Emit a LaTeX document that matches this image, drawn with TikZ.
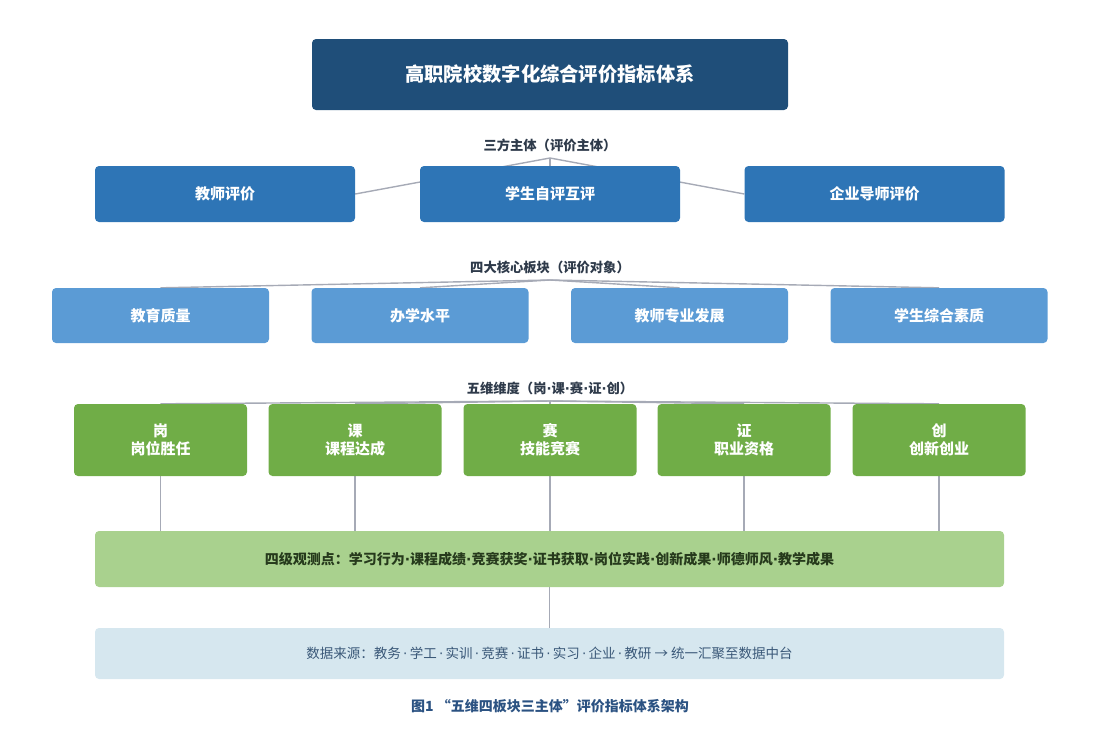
\documentclass[tikz,border=0pt]{standalone}
\usepackage{fontspec}
\setmainfont{Noto Sans CJK SC}
\newfontfamily\dotfont{DejaVu Sans}
\newcommand{\md}{{\dotfont ·}}
\newcommand{\mds}{\,{\dotfont ·}\,}
\usetikzlibrary{backgrounds}
\definecolor{cTitle}{HTML}{1F4E79}
\definecolor{cRowA}{HTML}{2E75B6}
\definecolor{cRowB}{HTML}{5B9BD5}
\definecolor{cRowC}{HTML}{70AD47}
\definecolor{cObs}{HTML}{A9D18E}
\definecolor{cData}{HTML}{D6E7EF}
\definecolor{cLine}{HTML}{A6AAB6}
\definecolor{cLabel}{HTML}{2E3A4A}
\definecolor{cObsText}{HTML}{263A1C}
\definecolor{cDataText}{HTML}{3A5878}
\definecolor{cCap}{HTML}{2B5282}
\tikzset{
  box/.style={rounded corners=4pt, inner sep=0pt, align=center, text=white, font=\bfseries\fontsize{15}{18}\selectfont},
  titlebox/.style={box, fill=cTitle, minimum width=476pt, minimum height=71pt, font=\bfseries\fontsize{19.3}{22}\selectfont},
  rowa/.style={box, fill=cRowA, minimum width=260pt, minimum height=56pt},
  rowb/.style={box, fill=cRowB, minimum width=217pt, minimum height=55pt},
  rowc/.style={box, fill=cRowC, minimum width=173pt, minimum height=72pt},
  obsbox/.style={box, fill=cObs, minimum width=909pt, minimum height=56pt, text=cObsText, font=\bfseries\fontsize{14}{16}\selectfont},
  databox/.style={box, fill=cData, minimum width=909pt, minimum height=51pt, text=cDataText, font=\fontsize{13.5}{16}\selectfont},
  grplabel/.style={inner sep=0pt, text=cLabel, font=\bfseries\fontsize{13.3}{15}\selectfont},
  caption/.style={inner sep=0pt, text=cCap, font=\bfseries\fontsize{14}{16}\selectfont},
  conn/.style={draw=cLine, line width=1.4pt}
}
\begin{document}
\begin{tikzpicture}[x=1pt, y=-1pt]
\useasboundingbox (0,0) rectangle (1100,729);
\node[titlebox] (title) at (550,74.5) {高职院校数字化综合评价指标体系};

\node[grplabel] (lab1) at (550,145) {三方主体（评价主体）};
\coordinate (h1) at (550,158);
\node[rowa] (a1) at (225,194) {教师评价};
\node[rowa] (a2) at (550,194) {学生自评互评};
\node[rowa] (a3) at (874.5,194) {企业导师评价};

\node[grplabel] (lab2) at (550,267) {四大核心板块（评价对象）};
\coordinate (h2) at (550,280);
\node[rowb] (b1) at (160.5,315.5) {教育质量};
\node[rowb] (b2) at (420,315.5) {办学水平};
\node[rowb] (b3) at (679.5,315.5) {教师专业发展};
\node[rowb] (b4) at (939,315.5) {学生综合素质};

\node[grplabel] (lab3) at (550,388) {五维维度（岗\md 课\md 赛\md 证\md 创）};
\coordinate (h3) at (550,401);
\node[rowc] (c1) at (160.5,440) {岗\\岗位胜任};
\node[rowc] (c2) at (355,440) {课\\课程达成};
\node[rowc] (c3) at (550,440) {赛\\技能竞赛};
\node[rowc] (c4) at (744,440) {证\\职业资格};
\node[rowc] (c5) at (939,440) {创\\创新创业};

\node[obsbox] (obs) at (549.5,559) {四级观测点：学习行为\md 课程成绩\md 竞赛获奖\md 证书获取\md 岗位实践\md 创新成果\md 师德师风\md 教学成果};
\node[databox] (data) at (549.5,653.5) {数据来源：教务\mds 学工\mds 实训\mds 竞赛\mds 证书\mds 实习\mds 企业\mds 教研 → 统一汇聚至数据中台};

\node[caption] (cap) at (550,706) {图1 “五维四板块三主体”评价指标体系架构};

\begin{scope}[on background layer]
  \draw[conn] (h1) -- (a1.east);
  \draw[conn] (h1) -- (a2.north);
  \draw[conn] (h1) -- (a3.west);
  \foreach \n in {b1,b2,b3,b4} \draw[conn] (h2) -- (\n.north);
  \foreach \n in {c1,c2,c3,c4,c5} {
    \draw[conn] (h3) -- (\n.north);
    \draw[conn] (\n.south) -- (\n.south |- obs.north);
  }
  \draw[conn] (obs.south) -- (data.north);
\end{scope}
\end{tikzpicture}
\end{document}
